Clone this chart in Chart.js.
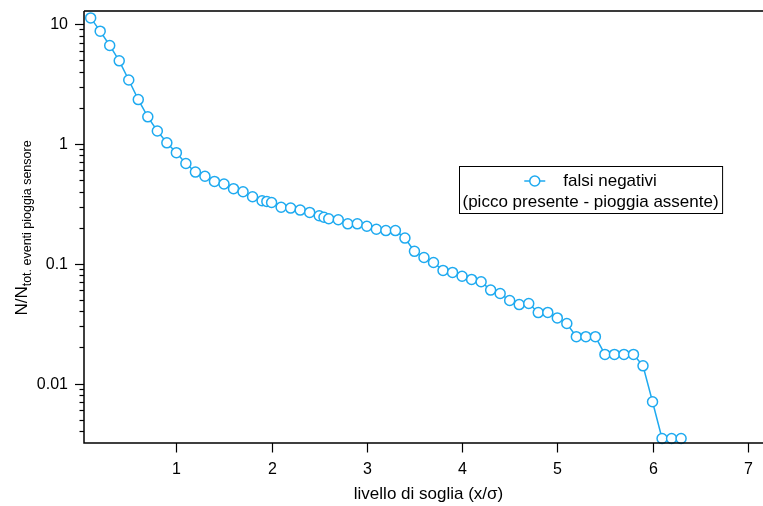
<!DOCTYPE html>
<html>
<head>
<meta charset="utf-8">
<script src="https://cdn.jsdelivr.net/npm/chart.js@4/dist/chart.umd.min.js"></script>
<style>
  html, body { margin: 0; padding: 0; background: #fff; }
  #wrap { width: 763px; height: 506px; position: relative; }
</style>
</head>
<body>
<div id="wrap"><canvas id="c" width="763" height="506"></canvas></div>
<script>
// ---- data ----
const thresholds = [0.1,0.2,0.3,0.4,0.5,0.6,0.7,0.8,0.9,1.0,
  1.1,1.2,1.3,1.4,1.5,1.6,1.7,1.8,1.9,1.95,2.0,
  2.1,2.2,2.3,2.4,2.5,2.55,2.6,2.7,2.8,2.9,3.0,
  3.1,3.2,3.3,3.4,3.5,3.6,3.7,3.8,3.9,4.0,
  4.1,4.2,4.3,4.4,4.5,4.6,4.7,4.8,4.9,5.0,
  5.1,5.2,5.3,5.4,5.5,5.6,5.7,5.8,5.9,6.0,
  6.1,6.2,6.3];
const falsiNegativi = [11.25,8.72,6.62,4.93,3.41,2.34,1.68,1.28,1.02,0.844,
  0.685,0.581,0.536,0.486,0.462,0.423,0.398,0.362,0.335,0.331,0.324,
  0.296,0.291,0.280,0.268,0.251,0.244,0.237,0.2325,0.215,0.215,0.2055,
  0.194,0.189,0.189,0.1636,0.1268,0.1127,0.1023,0.0879,0.0846,0.0786,
  0.0739,0.0707,0.0602,0.0564,0.0493,0.0456,0.0465,0.0391,0.0392,0.0353,
  0.0317,0.0246,0.0246,0.0246,0.0175,0.0175,0.0175,0.0175,0.01405,0.00704,
  0.00348,0.00348,0.00348];
const yTickValues = [0.01, 0.1, 1, 10];
const yTickLabels = ['0.01', '0.1', '1', '10'];
const xTickValues = [1, 2, 3, 4, 5, 6, 7];
const xTickLabels = ['1', '2', '3', '4', '5', '6', '7'];
const seriesName = ['falsi negativi', '(picco presente - pioggia assente)'];
const xTitle = 'livello di soglia (x/\u03C3)';
const yTitleMain = 'N/N';
const yTitleSub = 'tot. eventi pioggia sensore';

const BLUE = 'rgb(30,170,240)';
const FONT = '"Liberation Sans", Arial, Helvetica, sans-serif';

const axesPlugin = {
  id: 'axesPlugin',
  afterDraw(chart) {
    const ctx = chart.ctx;
    const a = chart.chartArea;
    const xs = chart.scales.x, ys = chart.scales.y;
    ctx.save();
    // top frame line
    ctx.strokeStyle = '#3a3a3a';
    ctx.lineWidth = 2;
    ctx.beginPath(); ctx.moveTo(a.left, a.top); ctx.lineTo(a.right, a.top); ctx.stroke();
    // left and bottom axes
    ctx.strokeStyle = '#000';
    ctx.lineWidth = 1.5;
    ctx.beginPath();
    ctx.moveTo(a.left, a.top); ctx.lineTo(a.left, a.bottom); ctx.lineTo(a.right, a.bottom);
    ctx.stroke();
    // y ticks (log: major at decades, minor 2..9)
    ctx.lineWidth = 1.2;
    for (let d = -3; d <= 1; d++) {
      for (let m = 1; m <= 9; m++) {
        const v = m * Math.pow(10, d);
        if (v < ys.min || v > ys.max) continue;
        const py = Math.round(ys.getPixelForValue(v)) + 0.5;
        const len = m === 1 ? 9 : 4.5;
        ctx.beginPath(); ctx.moveTo(a.left - len, py); ctx.lineTo(a.left, py); ctx.stroke();
      }
    }
    ctx.fillStyle = '#000';
    ctx.font = '16px ' + FONT;
    ctx.textAlign = 'right';
    ctx.textBaseline = 'middle';
    yTickValues.forEach((v, i) => {
      ctx.fillText(yTickLabels[i], a.left - 16, ys.getPixelForValue(v) + 1);
    });
    // x ticks
    ctx.textAlign = 'center';
    ctx.textBaseline = 'middle';
    xTickValues.forEach((v, i) => {
      const px = Math.round(xs.getPixelForValue(v)) + 0.5;
      ctx.beginPath(); ctx.moveTo(px, a.bottom); ctx.lineTo(px, a.bottom + 9.5); ctx.stroke();
      ctx.fillText(xTickLabels[i], px, a.bottom + 27);
    });
    // x title
    ctx.font = '17px ' + FONT;
    ctx.fillText(xTitle, (a.left + a.right) / 2 + 5, 494);
    // y title with subscript
    ctx.save();
    ctx.translate(21, (a.top + a.bottom) / 2 + 1);
    ctx.rotate(-Math.PI / 2);
    ctx.font = '17px ' + FONT;
    const w1 = ctx.measureText(yTitleMain).width;
    ctx.font = '12.5px ' + FONT;
    const w2 = ctx.measureText(yTitleSub).width;
    const start = -(w1 + w2) / 2;
    ctx.textAlign = 'left';
    ctx.textBaseline = 'alphabetic';
    ctx.font = '17px ' + FONT;
    ctx.fillText(yTitleMain, start, 6);
    ctx.font = '12.5px ' + FONT;
    ctx.fillText(yTitleSub, start + w1, 10);
    ctx.restore();

    // legend
    ctx.font = '17px ' + FONT;
    const t2w = ctx.measureText(seriesName[1]).width;
    const t1w = ctx.measureText(seriesName[0]).width;
    const boxL = 459, boxT = 166;
    const boxW = t2w + 7, boxH = 47;
    ctx.fillStyle = '#fff';
    ctx.fillRect(boxL, boxT, boxW, boxH);
    ctx.strokeStyle = '#000';
    ctx.lineWidth = 1;
    ctx.strokeRect(boxL + 0.5, boxT + 0.5, boxW, boxH);
    const cx = boxL + boxW / 2;
    const symW = 21, gap = 18;
    const line1W = symW + gap + t1w;
    const sx = cx - line1W / 2;
    const ly = boxT + 15;
    ctx.strokeStyle = BLUE;
    ctx.lineWidth = 1.5;
    ctx.beginPath(); ctx.moveTo(sx, ly); ctx.lineTo(sx + symW, ly); ctx.stroke();
    ctx.fillStyle = '#fff';
    ctx.beginPath(); ctx.arc(sx + symW / 2, ly, 5, 0, Math.PI * 2); ctx.fill(); ctx.stroke();
    ctx.fillStyle = '#000';
    ctx.textAlign = 'left';
    ctx.textBaseline = 'middle';
    ctx.fillText(seriesName[0], sx + symW + gap, ly);
    ctx.textAlign = 'center';
    ctx.fillText(seriesName[1], cx, boxT + 36);
    ctx.restore();
  }
};

const points = thresholds.map((x, i) => ({ x: x, y: falsiNegativi[i] }));

new Chart(document.getElementById('c'), {
  type: 'line',
  data: {
    datasets: [{
      label: seriesName.join(' '),
      data: points,
      borderColor: BLUE,
      borderWidth: 1.5,
      pointRadius: 5,
      pointBorderWidth: 1.5,
      pointBackgroundColor: '#fff',
      pointBorderColor: BLUE,
      tension: 0,
      clip: false
    }]
  },
  options: {
    responsive: false,
    animation: false,
    events: [],
    layout: { autoPadding: false, padding: { left: 84, top: 11, right: 0, bottom: 63 } },
    plugins: { legend: { display: false }, tooltip: { enabled: false } },
    scales: {
      x: { type: 'linear', min: 0.03, max: 7.16, display: false },
      y: { type: 'logarithmic', min: 0.00319, max: 12.84, display: false }
    }
  },
  plugins: [axesPlugin]
});
</script>
</body>
</html>
